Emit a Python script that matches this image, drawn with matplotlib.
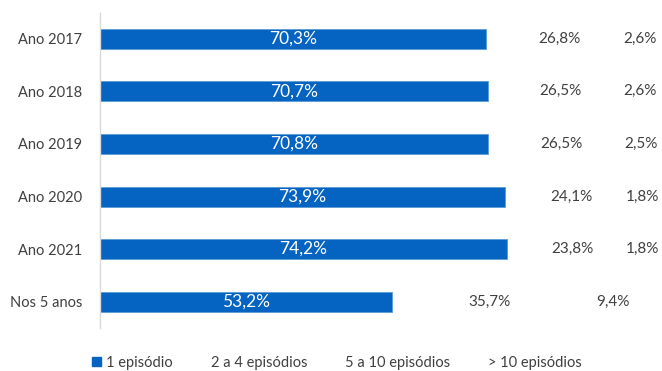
import numpy as np
import matplotlib.pyplot as plt
from matplotlib.patches import Patch

categories = ["Ano 2017", "Ano 2018", "Ano 2019", "Ano 2020", "Ano 2021", "Nos 5 anos"]
series_names = ["1 episódio", "2 a 4 episódios", "5 a 10 episódios", "> 10 episódios"]
ep1 = [70.3, 70.7, 70.8, 73.9, 74.2, 53.2]
ep2_4 = [26.8, 26.5, 26.5, 24.1, 23.8, 35.7]
ep5_10 = [2.6, 2.6, 2.5, 1.8, 1.8, 9.4]
ep10 = [0.3, 0.2, 0.2, 0.2, 0.2, 1.7]

blue = "#0563c1"
grey = "#404040"

plt.rcParams['font.family'] = ['Lato', 'DejaVu Sans']

fig = plt.figure(figsize=(6.62, 3.71), dpi=100)
ax = fig.add_axes([100 / 662, 1 - 328 / 371, 548.5 / 662, 315.5 / 371])

y = np.arange(len(categories))
h = 0.38

b1 = ax.barh(y, ep1, height=h, color=blue, edgecolor="#5b9bd5", linewidth=0.6)
left = np.array(ep1)
b2 = ax.barh(y, ep2_4, height=h, left=left, color="none")
left = left + np.array(ep2_4)
b3 = ax.barh(y, ep5_10, height=h, left=left, color="none")
left = left + np.array(ep5_10)
b4 = ax.barh(y, ep10, height=h, left=left, color="none")

def fmt(vals):
    return [("%.1f%%" % v).replace(".", ",") for v in vals]

ax.bar_label(b1, labels=fmt(ep1), label_type="center", color="white", fontsize=12.5)
ax.bar_label(b2, labels=fmt(ep2_4), label_type="center", color=grey, fontsize=11)
ax.bar_label(b3, labels=fmt(ep5_10), label_type="center", color=grey, fontsize=11)

ax.set_xlim(0, 100)
ax.set_ylim(len(categories) - 0.5, -0.5)
ax.set_yticks(y)
ax.set_yticklabels(categories, color=grey, fontsize=10.5)
ax.tick_params(axis="y", length=0, pad=13)
ax.set_xticks([])
for s in ["top", "right", "bottom"]:
    ax.spines[s].set_visible(False)
ax.spines["left"].set_color("#d9d9d9")
ax.spines["left"].set_linewidth(1.0)

handles = [Patch(facecolor=blue, edgecolor=blue),
           Patch(facecolor="none", edgecolor="none"),
           Patch(facecolor="none", edgecolor="none"),
           Patch(facecolor="none", edgecolor="none")]
fig.legend(handles, series_names, loc="center", bbox_to_anchor=(337 / 662, 1 - 363 / 371),
           ncol=4, frameon=False, fontsize=10.5, labelcolor=grey,
           handlelength=0.6, handleheight=0.6, handletextpad=0.4, columnspacing=1.6)

fig.savefig("out.png", dpi=100)
